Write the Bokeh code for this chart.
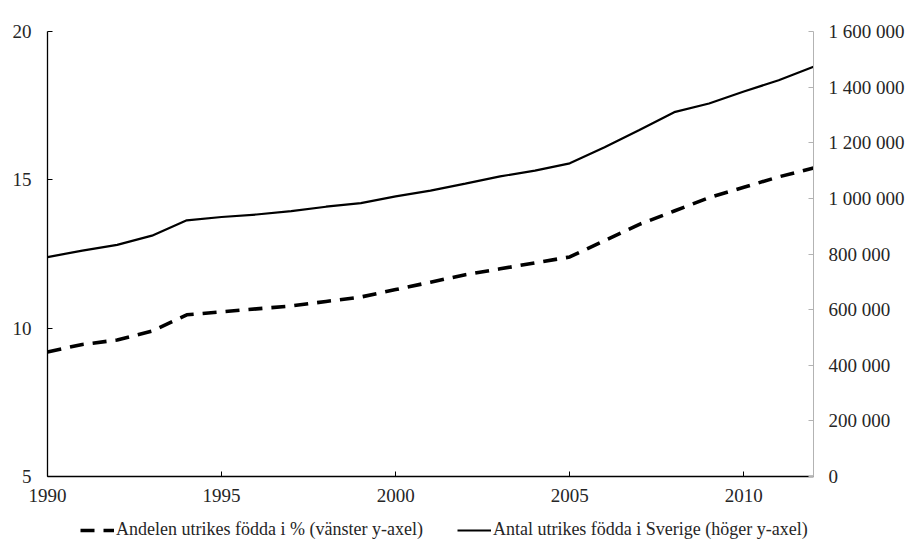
from bokeh.plotting import figure
from bokeh.layouts import column
from bokeh.models import (Range1d, LinearAxis, FixedTicker, Legend, LegendItem, Label)
from bokeh.embed import file_html
from bokeh.resources import INLINE

years = list(range(1990, 2013))
share_pct = [9.2, 9.45, 9.6, 9.9, 10.45, 10.55, 10.65, 10.75, 10.9, 11.05, 11.3,
             11.55, 11.8, 12.0, 12.2, 12.4, 12.95, 13.5, 13.95, 14.4, 14.75, 15.1, 15.4]
count_total = [789000, 812000, 833000, 866000, 921000, 933000, 942000, 954000, 970000,
               983000, 1007000, 1028000, 1053000, 1079000, 1100000, 1126000, 1184000,
               1246000, 1310000, 1341000, 1384000, 1425000, 1473000]

left_ticks = [5, 10, 15, 20]
right_ticks = [0, 200000, 400000, 600000, 800000, 1000000, 1200000, 1400000, 1600000]
right_labels = ["0", "200 000", "400 000", "600 000", "800 000", "1 000 000",
                "1 200 000", "1 400 000", "1 600 000"]
x_ticks = [1990, 1995, 2000, 2005, 2010]

legend_share = "Andelen utrikes födda i % (vänster y-axel)"
legend_count = "Antal utrikes födda i Sverige (höger y-axel)"

FONT = "Liberation Serif"
FS = "19px"
TC = "#262626"
DASH = "14 9"

p = figure(width=908, height=512, output_backend="svg", toolbar_location=None,
           x_range=Range1d(1990, 2012), y_range=Range1d(5, 20),
           min_border_left=47, min_border_top=31, min_border_right=95, min_border_bottom=36)
p.extra_y_ranges = {"count": Range1d(0, 1600000)}
p.outline_line_color = None
p.xgrid.visible = False
p.ygrid.visible = False
p.background_fill_color = "white"
p.border_fill_color = "white"

p.line(years, share_pct, line_color="black", line_width=3.6, line_dash=DASH)
p.line(years, count_total, line_color="black", line_width=2.2, y_range_name="count")

# x axis
xa = p.xaxis[0]
xa.ticker = FixedTicker(ticks=x_ticks)
xa.axis_line_color = "black"
xa.axis_line_width = 1.3
xa.major_tick_in = 5
xa.major_tick_out = 0
xa.minor_tick_line_color = None
xa.major_tick_line_color = "black"
xa.major_label_text_font = FONT
xa.major_label_text_font_size = FS
xa.major_label_text_color = TC
xa.major_label_standoff = 12

# left axis
ya = p.yaxis[0]
ya.ticker = FixedTicker(ticks=left_ticks)
ya.axis_line_color = "black"
ya.axis_line_width = 1.3
ya.major_tick_in = 5
ya.major_tick_out = 0
ya.minor_tick_line_color = None
ya.major_label_text_font = FONT
ya.major_label_text_font_size = FS
ya.major_label_text_color = TC
ya.major_label_standoff = 16

# right axis
ra = LinearAxis(y_range_name="count", ticker=FixedTicker(ticks=right_ticks),
                major_label_overrides={t: l for t, l in zip(right_ticks, right_labels)})
ra.axis_line_color = "#b3b3b3"
ra.major_tick_line_color = "#b3b3b3"
ra.major_tick_in = 5
ra.major_tick_out = 0
ra.minor_tick_line_color = None
ra.major_label_text_font = FONT
ra.major_label_text_font_size = FS
ra.major_label_text_color = TC
ra.major_label_standoff = 15
p.add_layout(ra, "right")

p.add_layout(Label(x=1990, y=20, x_offset=3, y_offset=6, text="%", text_font=FONT,
                   text_font_size=FS, text_color=TC, text_baseline="bottom",
                   text_align="center"))

# legend strip below the chart
q = figure(width=908, height=30, output_backend="svg", toolbar_location=None,
           x_range=Range1d(0, 1), y_range=Range1d(0, 1),
           x_axis_location=None, y_axis_location=None,
           min_border_left=0, min_border_right=0, min_border_top=0, min_border_bottom=0)
q.outline_line_color = None
q.xgrid.visible = False
q.ygrid.visible = False
q.border_fill_color = "white"
l1 = q.line(years, share_pct, line_color="black", line_width=3.6, line_dash=DASH)
l2 = q.line(years, count_total, line_color="black", line_width=2.2)

legend = Legend(items=[LegendItem(label=legend_share, renderers=[l1]),
                       LegendItem(label=legend_count, renderers=[l2])],
                orientation="horizontal", location=(33, 2))
legend.label_text_font = FONT
legend.label_text_font_size = "18px"
legend.label_text_color = TC
legend.glyph_width = 34
legend.label_standoff = 2
legend.spacing = 34
legend.border_line_color = None
legend.background_fill_alpha = 0
legend.padding = 0
legend.margin = 0
q.add_layout(legend)

open("out.html", "w").write(file_html(column(p, q, spacing=0), INLINE))
